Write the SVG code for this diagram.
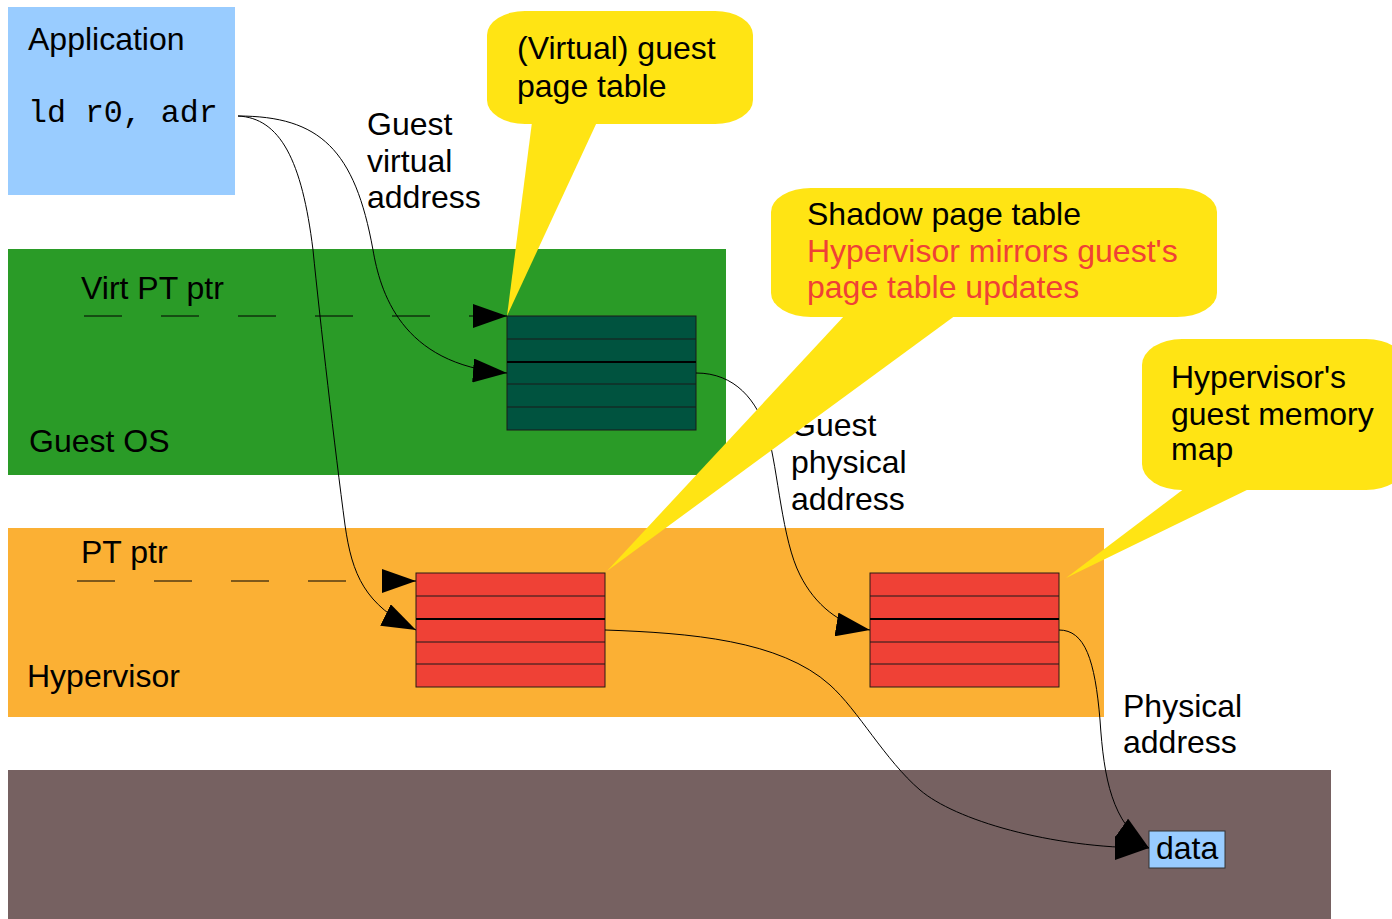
<svg xmlns="http://www.w3.org/2000/svg" width="1392" height="919" viewBox="0 0 1392 919">
  <defs>
    <style>
      .t { font-family: "Liberation Sans", Arial, sans-serif; font-size: 32px; fill: #000; }
      .mono { font-family: "Liberation Mono", "Courier New", monospace; font-size: 31.6px; fill: #000; }
      .red { fill: #ef4136; }
      .wire { fill: none; stroke: #000; stroke-width: 1; }
      .dash { fill: none; stroke: #000; stroke-width: 1; stroke-dasharray: 38 39; }
      .callout { fill: #ffe414; }
      .row { stroke: #1a1a1a; stroke-width: 1; }
      .mid { stroke: #000; stroke-width: 2; }
    </style>
    <marker id="arrow" markerUnits="userSpaceOnUse" markerWidth="34" markerHeight="24" viewBox="0 0 34 24" refX="34" refY="12" orient="auto">
      <path d="M0,0 L34,12 L0,24 Z" fill="#000"/>
    </marker>
  </defs>

  <rect width="1392" height="919" fill="#fff"/>

  <!-- layer bands -->
  <g id="layer-guest-os">
    <rect x="8" y="249" width="718" height="226" fill="#2a9b27"/>
    <text class="t" x="81" y="299">Virt PT ptr</text>
    <text class="t" x="29" y="452">Guest OS</text>
  </g>
  <g id="layer-hypervisor">
    <rect x="8" y="528" width="1096" height="189" fill="#fbb034"/>
    <text class="t" x="81" y="563">PT ptr</text>
    <text class="t" x="27" y="687">Hypervisor</text>
  </g>
  <g id="layer-memory">
    <rect x="8" y="770" width="1323" height="149" fill="#766161"/>
  </g>

  <g id="application">
    <rect x="8" y="7" width="227" height="188" fill="#99ccff"/>
    <text class="t" x="28" y="50">Application</text>
    <text class="mono" x="28" y="122">ld r0, adr</text>
  </g>

  <!-- page tables: five entries each -->
  <g id="guest-page-table">
    <rect x="507" y="316" width="189" height="114" fill="#00533f" stroke="#1a1a1a" stroke-width="1"/>
    <line class="row" x1="507" y1="339" x2="696" y2="339"/>
    <line class="mid" x1="507" y1="362" x2="696" y2="362"/>
    <line class="row" x1="507" y1="384" x2="696" y2="384"/>
    <line class="row" x1="507" y1="407" x2="696" y2="407"/>
  </g>
  <g id="shadow-page-table">
    <rect x="416" y="573" width="189" height="114" fill="#ef4136" stroke="#2a1a14" stroke-width="1"/>
    <line class="row" x1="416" y1="596" x2="605" y2="596"/>
    <line class="mid" x1="416" y1="619" x2="605" y2="619"/>
    <line class="row" x1="416" y1="642" x2="605" y2="642"/>
    <line class="row" x1="416" y1="664" x2="605" y2="664"/>
  </g>
  <g id="guest-memory-map">
    <rect x="870" y="573" width="189" height="114" fill="#ef4136" stroke="#2a1a14" stroke-width="1"/>
    <line class="row" x1="870" y1="596" x2="1059" y2="596"/>
    <line class="mid" x1="870" y1="619" x2="1059" y2="619"/>
    <line class="row" x1="870" y1="642" x2="1059" y2="642"/>
    <line class="row" x1="870" y1="664" x2="1059" y2="664"/>
  </g>

  <g id="data">
    <rect x="1149" y="831" width="76" height="37" fill="#99ccff" stroke="#333" stroke-width="1"/>
    <text class="t" x="1156" y="859">data</text>
  </g>

  <!-- connectors -->
  <g id="connectors">
    <path class="dash" d="M84,316 L507,316" marker-end="url(#arrow)"/>
    <path class="dash" d="M77,581 L416,581" marker-end="url(#arrow)"/>
    <path class="wire" d="M238,116 C320,116 355,150 373,250 C380,290 400,365 507,373" marker-end="url(#arrow)"/>
    <path class="wire" d="M238,116 C280,118 302,160 313,250 C320,320 335,450 345,525 C352,575 365,605 416,630" marker-end="url(#arrow)"/>
    <path class="wire" d="M696,373 C735,373 757,400 768,435 C778,470 782,540 800,575 C815,605 840,625 870,630" marker-end="url(#arrow)"/>
    <path class="wire" d="M605,630 C690,633 780,640 830,685 C858,710 885,760 920,790 C955,820 1050,848 1149,848" marker-end="url(#arrow)"/>
    <path class="wire" d="M1059,630 C1085,630 1095,660 1100,720 C1104,780 1112,822 1149,848" marker-end="url(#arrow)"/>
  </g>

  <!-- connector labels -->
  <g id="labels">
    <text class="t" x="367" y="135">Guest</text>
    <text class="t" x="367" y="172">virtual</text>
    <text class="t" x="367" y="208">address</text>
    <text class="t" x="791" y="436">Guest</text>
    <text class="t" x="791" y="473">physical</text>
    <text class="t" x="791" y="510">address</text>
    <text class="t" x="1123" y="717">Physical</text>
    <text class="t" x="1123" y="753">address</text>
  </g>

  <!-- callouts -->
  <g id="callout-guest-pt">
    <rect class="callout" x="487" y="11" width="266" height="113" rx="38" ry="24"/>
    <polygon class="callout" points="532,122 597,122 507,316"/>
    <text class="t" x="517" y="59">(Virtual) guest</text>
    <text class="t" x="517" y="97">page table</text>
  </g>
  <g id="callout-shadow-pt">
    <rect class="callout" x="771" y="188" width="446" height="129" rx="40" ry="24"/>
    <polygon class="callout" points="845,315 956,315 607,571"/>
    <text class="t" x="807" y="225">Shadow page table</text>
    <text class="t red" x="807" y="262">Hypervisor mirrors guest's</text>
    <text class="t red" x="807" y="298">page table updates</text>
  </g>
  <g id="callout-memory-map">
    <rect class="callout" x="1142" y="339" width="264" height="151" rx="40" ry="26"/>
    <polygon class="callout" points="1185,488 1251,488 1066,578"/>
    <text class="t" x="1171" y="388">Hypervisor's</text>
    <text class="t" x="1171" y="425">guest memory</text>
    <text class="t" x="1171" y="460">map</text>
  </g>
</svg>
